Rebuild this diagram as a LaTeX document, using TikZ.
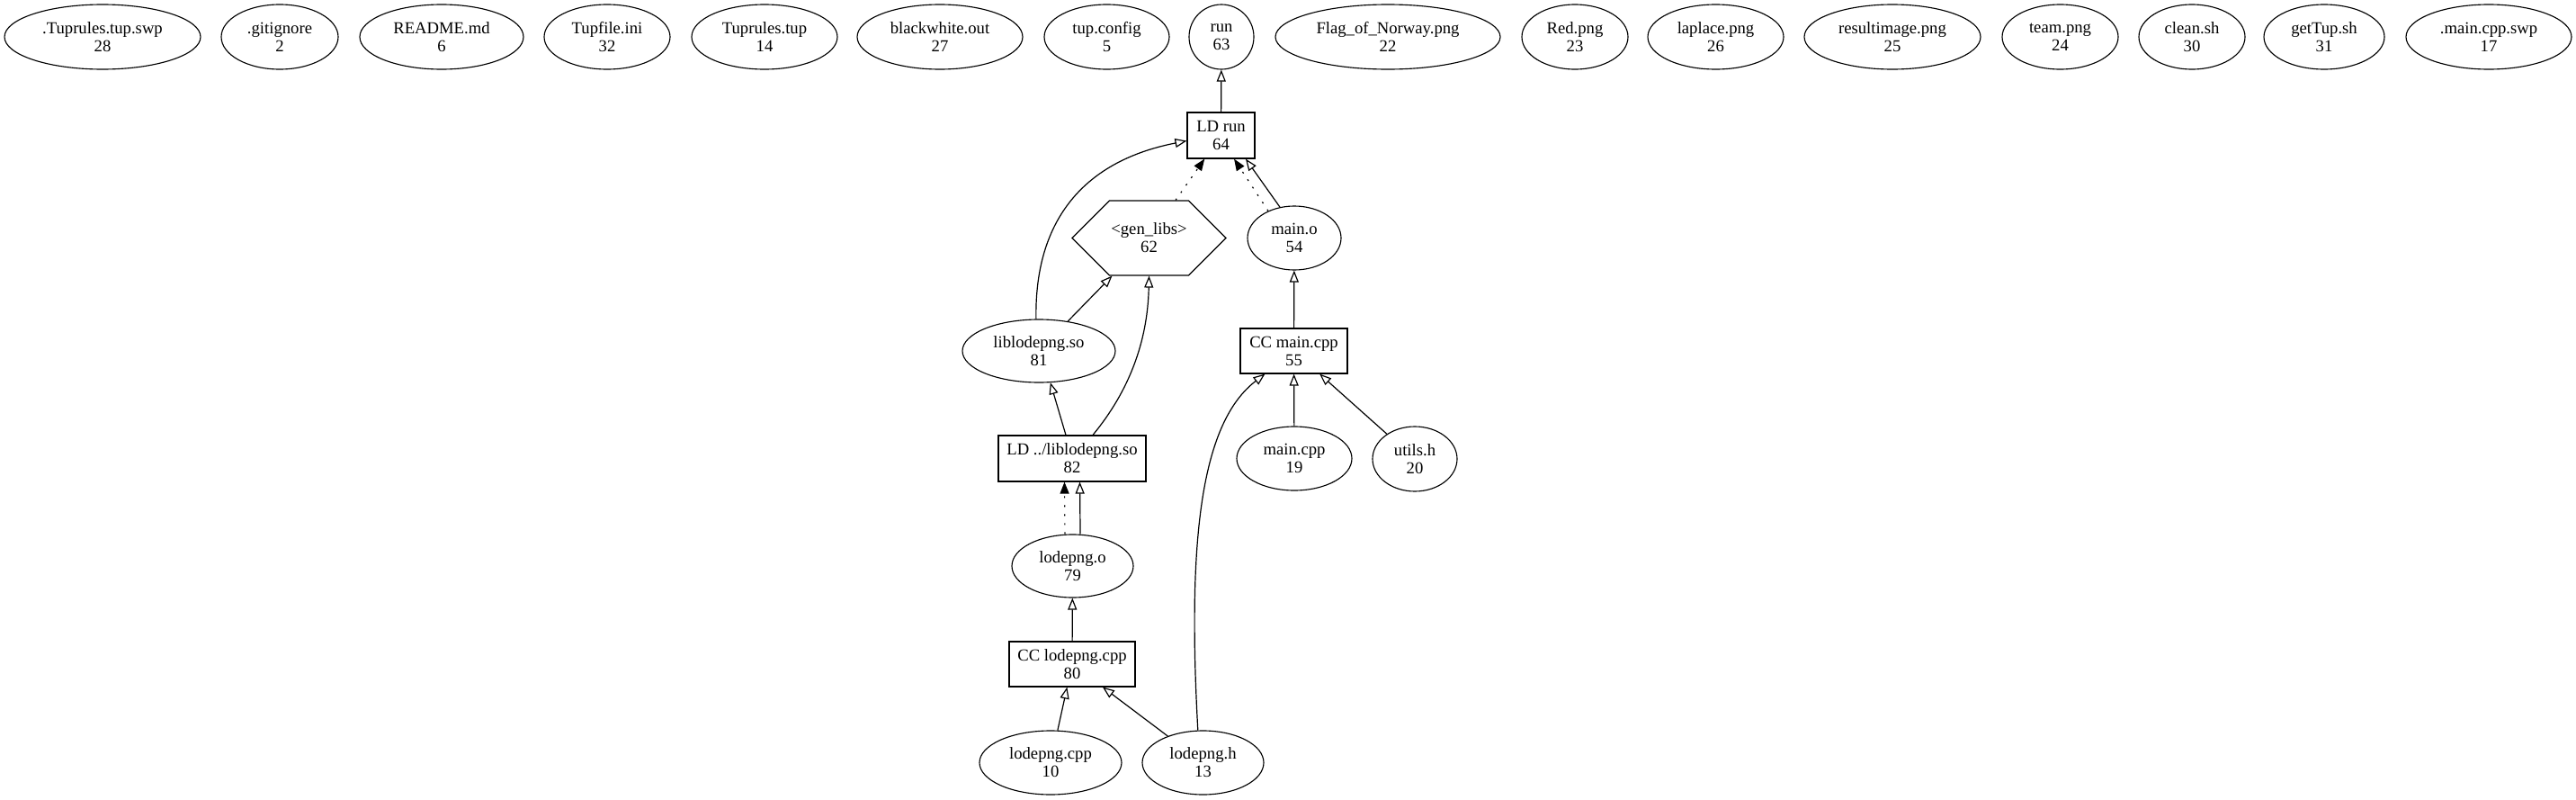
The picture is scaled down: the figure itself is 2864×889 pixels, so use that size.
\documentclass[tikz,border=0pt]{standalone}
\usepackage{fontspec}
\setmainfont{Liberation Serif}
\usetikzlibrary{shapes.geometric,shapes.symbols,arrows.meta}

\begin{document}
\begin{tikzpicture}[x=0.75pt, y=-0.75pt,
    every node/.style={font=\fontsize{14pt}{15pt}\selectfont, align=center, inner sep=0pt, line width=0.85pt},
    filenode/.style={draw, ellipse},
    cmdnode/.style={draw, rectangle},
    groupnode/.style={draw, signal, signal to=west and east, signal pointer angle=90},
    sz/.style 2 args={minimum width=#1*0.75pt, minimum height=#2*0.75pt},
    link/.style={line width=0.9pt, -{Triangle[open, length=9.75pt, width=7.5pt]}},
    dotlink/.style={line width=0.9pt, dash pattern=on 1.5pt off 6pt, -{Triangle[length=9.75pt, width=7.5pt]}}]

    % Fundo e limites
    \fill[white] (0,0) rectangle (2864,889);
    \useasboundingbox (0,0) rectangle (2864,889);

    % Arquivos soltos na linha de cima
    \node[filenode, sz={218}{72}] (tuprulesswp) at (114,41) {.Tuprules.tup.swp\\28};
    \node[filenode, sz={130}{72}] (gitignore) at (311,41) {.gitignore\\2};
    \node[filenode, sz={182}{72}] (readme) at (491,41) {README.md\\6};
    \node[filenode, sz={140}{72}] (tupfileini) at (675,41) {Tupfile.ini\\32};
    \node[filenode, sz={162}{72}] (tuprulestup) at (850,41) {Tuprules.tup\\14};
    \node[filenode, sz={184}{72}] (blackwhite) at (1045,41) {blackwhite.out\\27};
    \node[filenode, sz={139}{72}] (tupconfig) at (1230.5,41) {tup.config\\5};
    \node[filenode, sz={72}{72}] (run) at (1358,41) {run\\63};
    \node[filenode, sz={250}{72}] (flag) at (1543,41) {Flag\_of\_Norway.png\\22};
    \node[filenode, sz={118}{72}] (redpng) at (1751,41) {Red.png\\23};
    \node[filenode, sz={151}{72}] (laplace) at (1907.5,41) {laplace.png\\26};
    \node[filenode, sz={196}{72}] (resultimage) at (2104,41) {resultimage.png\\25};
    \node[filenode, sz={129}{72}] (teampng) at (2290.5,41) {team.png\\24};
    \node[filenode, sz={118}{72}] (cleansh) at (2437,41) {clean.sh\\30};
    \node[filenode, sz={134}{72}] (gettup) at (2584,41) {getTup.sh\\31};
    \node[filenode, sz={184}{72}] (maincppswp) at (2767,41) {.main.cpp.swp\\17};

    % Comandos e arquivos gerados
    \node[cmdnode, sz={75}{51}] (ldrun) at (1357.5,150.5) {LD run\\64};
    \node[groupnode, sz={171}{83}] (genlibs) at (1277.5,264.5) {<gen\_libs>\\62};
    \node[filenode, sz={104}{71}] (maino) at (1439,264.5) {main.o\\54};
    \node[cmdnode, sz={119}{50}] (ccmain) at (1438.5,390) {CC main.cpp\\55};
    \node[filenode, sz={170}{70}] (liblodepng) at (1155,390) {liblodepng.so\\81};
    \node[cmdnode, sz={164}{51}] (ldlib) at (1192,509.5) {LD ../liblodepng.so\\82};
    \node[filenode, sz={128}{71}] (maincpp) at (1439,509.5) {main.cpp\\19};
    \node[filenode, sz={94}{72}] (utilsh) at (1573,510) {utils.h\\20};
    \node[filenode, sz={135}{70}] (lodepngo) at (1192.5,629) {lodepng.o\\79};
    \node[cmdnode, sz={140}{50}] (cclode) at (1192,738) {CC lodepng.cpp\\80};
    \node[filenode, sz={158}{71}] (lodepngcpp) at (1168,847.5) {lodepng.cpp\\10};
    \node[filenode, sz={135}{71}] (lodepngh) at (1337.5,847.5) {lodepng.h\\13};

    % Dependencias de LD run
    \draw[link] (ldrun) -- (run);
    \draw[link] (liblodepng.95) .. controls (1150,250) and (1200,180) .. ([yshift=-4.5pt]ldrun.west);
    \draw[dotlink] (genlibs) -- (ldrun);
    \draw[dotlink] (maino.134) -- ([xshift=10.9pt]ldrun.south);
    \draw[link] (maino.115) -- ([xshift=20.6pt]ldrun.south);

    % Biblioteca
    \draw[link] (liblodepng) -- (genlibs);
    \draw[link] ([xshift=17.25pt]ldlib.north) .. controls (1255,435) and (1276,380) .. (genlibs.south);
    \draw[link] ([xshift=-5.25pt]ldlib.north) -- (liblodepng.-70);
    \draw[dotlink] ([xshift=-6.4pt]lodepngo.north) -- ([xshift=-6.4pt]ldlib.south);
    \draw[link] ([xshift=6.4pt]lodepngo.north) -- ([xshift=6.4pt]ldlib.south);
    \draw[link] (cclode) -- (lodepngo);
    \draw[link] (lodepngcpp) -- (cclode);
    \draw[link] (lodepngh) -- (cclode);

    % Programa principal
    \draw[link] (lodepngh.99) .. controls (1320,600) and (1335,470) .. ([xshift=21pt]ccmain.south west);
    \draw[link] (maincpp) -- (ccmain);
    \draw[link] (utilsh) -- (ccmain);
    \draw[link] (ccmain) -- (maino);

\end{tikzpicture}
\end{document}
